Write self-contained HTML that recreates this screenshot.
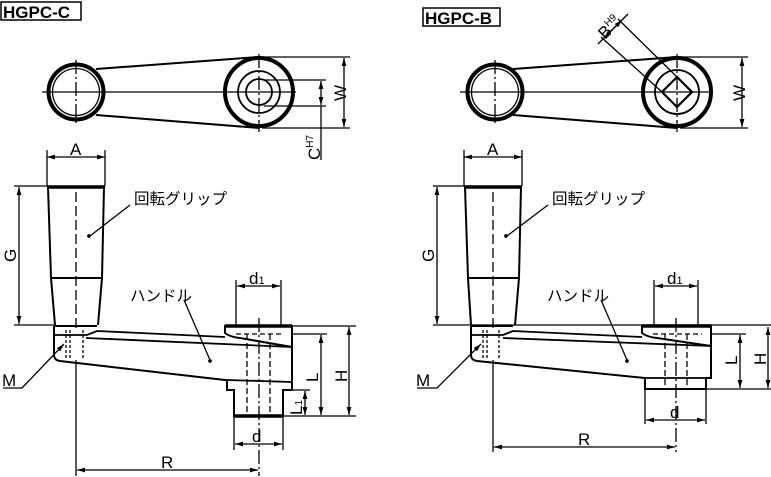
<!DOCTYPE html>
<html><head><meta charset="utf-8"><style>
html,body{margin:0;padding:0;background:#fff}
svg{display:block}
text{font-family:"Liberation Sans","Noto Sans CJK JP",sans-serif;fill:#000}
</style></head><body>
<svg width="771" height="477" viewBox="0 0 771 477" xmlns="http://www.w3.org/2000/svg">
<defs>
<marker id="a" viewBox="0 0 10 6" refX="10" refY="3" markerWidth="8" markerHeight="5" orient="auto-start-reverse" markerUnits="userSpaceOnUse"><path d="M0,0 L10,3 L0,6z" fill="#000"/></marker>
</defs>
<g stroke="#000" fill="none" stroke-width="1.3">
<!-- ===== LEFT TOP VIEW ===== -->
<rect x="1" y="2" width="80" height="18" stroke-width="1.5"/>
<line x1="96" y1="69" x2="259" y2="57" stroke-width="2"/>
<line x1="96" y1="115" x2="259" y2="128" stroke-width="2"/>
<circle cx="76" cy="92" r="27.5" stroke-width="4"/>
<circle cx="76" cy="92" r="23.5"/>
<circle cx="259" cy="92" r="34" stroke-width="4"/>
<circle cx="259" cy="92" r="21" stroke-width="1.8"/>
<circle cx="259" cy="92" r="13" stroke-width="1.8"/>
<line x1="42" y1="92" x2="296" y2="92"/>
<line x1="76" y1="60" x2="76" y2="124" stroke-dasharray="14,3,2,3"/>
<line x1="259" y1="54" x2="259" y2="132" stroke-dasharray="14,3,2,3"/>
<line x1="262" y1="57" x2="350" y2="57"/><line x1="262" y1="128" x2="350" y2="128"/>
<line x1="344" y1="58" x2="344" y2="127" marker-start="url(#a)" marker-end="url(#a)"/>
<line x1="264" y1="80" x2="326" y2="80"/><line x1="264" y1="106" x2="326" y2="106"/>
<line x1="321" y1="81" x2="321" y2="105" marker-start="url(#a)" marker-end="url(#a)"/>
<line x1="321" y1="106" x2="321" y2="160"/>

<!-- ===== LEFT SIDE VIEW ===== -->
<line x1="47" y1="157" x2="105" y2="157" marker-start="url(#a)" marker-end="url(#a)"/>
<line x1="47" y1="150" x2="47" y2="186"/><line x1="105" y1="150" x2="105" y2="186"/>
<line x1="14" y1="186" x2="47" y2="186"/><line x1="14" y1="325" x2="55" y2="325"/>
<line x1="19" y1="187" x2="19" y2="324" marker-start="url(#a)" marker-end="url(#a)"/>
<line x1="47" y1="187" x2="105" y2="187" stroke-width="3.5"/>
<path d="M48,187 L51,278 L55,325 M104,187 L102,278 L98,325 M51,278 L102,278" stroke-width="2"/>
<line x1="76" y1="192" x2="76" y2="330" stroke-dasharray="10,4"/>
<path d="M54,326 L97,326 M54,326 L54,355 Q54,360 60,361 L225,380 L227,380 L227,390 L234,390 L234,416 L283,416 L283,390 L292,390 L292,326 L225,326 L225,333 Q230,337 240,338 L292,347" stroke-width="2"/>
<path d="M54,335 L87,335 L97,331 L225,337 M86,338 L292,347 M227,380 L292,382" stroke-width="1.8"/>
<line x1="234" y1="416" x2="283" y2="416" stroke-width="3.5"/>
<line x1="225" y1="326" x2="292" y2="326" stroke-width="3.5"/>
<line x1="66" y1="330" x2="66" y2="360" stroke-dasharray="3,2"/>
<line x1="70" y1="330" x2="70" y2="360" stroke-dasharray="3,2"/>
<line x1="83" y1="330" x2="83" y2="360" stroke-dasharray="3,2"/>
<line x1="236" y1="334" x2="283" y2="334" stroke-dasharray="5,3"/>
<line x1="247" y1="334" x2="247" y2="414" stroke-dasharray="6,3"/>
<line x1="270" y1="334" x2="270" y2="414" stroke-dasharray="6,3"/>
<line x1="259" y1="318" x2="259" y2="476" stroke-dasharray="14,3,2,3"/>
<line x1="76" y1="360" x2="76" y2="476"/>
<line x1="236" y1="280" x2="236" y2="326"/><line x1="281" y1="280" x2="281" y2="326"/>
<line x1="237" y1="286" x2="280" y2="286" marker-start="url(#a)" marker-end="url(#a)"/>
<line x1="293" y1="326" x2="356" y2="326"/><line x1="293" y1="334" x2="327" y2="334"/>
<line x1="283" y1="416" x2="356" y2="416"/><line x1="292" y1="390" x2="310" y2="390"/>
<line x1="321" y1="335" x2="321" y2="415" marker-start="url(#a)" marker-end="url(#a)"/>
<line x1="349" y1="327" x2="349" y2="415" marker-start="url(#a)" marker-end="url(#a)"/>
<line x1="305" y1="391" x2="305" y2="415" marker-start="url(#a)" marker-end="url(#a)"/>
<line x1="234" y1="416" x2="234" y2="450"/><line x1="283" y1="416" x2="283" y2="450"/>
<line x1="235" y1="444" x2="282" y2="444" marker-start="url(#a)" marker-end="url(#a)"/>
<line x1="77" y1="470" x2="258" y2="470" marker-start="url(#a)" marker-end="url(#a)"/>
<path d="M3,388 L22,388 L64,344" marker-end="url(#a)"/>
<path d="M130,205 L90,236"/><circle cx="89" cy="236" r="1.2" fill="#000"/>
<path d="M184,300 L210,360"/><circle cx="210" cy="361" r="1.2" fill="#000"/>

<!-- ===== RIGHT TOP VIEW ===== -->
<rect x="423" y="8" width="77" height="18" stroke-width="1.5"/>
<line x1="513" y1="69" x2="677" y2="57" stroke-width="2"/>
<line x1="513" y1="115" x2="677" y2="128" stroke-width="2"/>
<circle cx="495" cy="92" r="27.5" stroke-width="4"/>
<circle cx="495" cy="92" r="23.5"/>
<circle cx="677" cy="92" r="34" stroke-width="4"/>
<circle cx="677" cy="92" r="22" stroke-width="1.8"/>
<path d="M677,77 L692,92 L677,107 L662,92z" stroke-width="2.2"/>
<line x1="460" y1="92" x2="713" y2="92"/>
<line x1="495" y1="60" x2="495" y2="124" stroke-dasharray="14,3,2,3"/>
<line x1="677" y1="54" x2="677" y2="132" stroke-dasharray="14,3,2,3"/>
<line x1="680" y1="57" x2="748" y2="57"/><line x1="680" y1="128" x2="748" y2="128"/>
<line x1="742" y1="58" x2="742" y2="127" marker-start="url(#a)" marker-end="url(#a)"/>
<line x1="662" y1="92" x2="601" y2="37"/><line x1="677" y1="77" x2="618" y2="19"/>
<line x1="598" y1="44" x2="628" y2="14"/>
<line x1="604" y1="38" x2="622" y2="20" marker-start="url(#a)" marker-end="url(#a)"/>

<!-- ===== RIGHT SIDE VIEW ===== -->
<line x1="464" y1="157" x2="522" y2="157" marker-start="url(#a)" marker-end="url(#a)"/>
<line x1="464" y1="150" x2="464" y2="186"/><line x1="522" y1="150" x2="522" y2="186"/>
<line x1="433" y1="186" x2="464" y2="186"/><line x1="433" y1="325" x2="771" y2="325"/>
<line x1="437" y1="187" x2="437" y2="324" marker-start="url(#a)" marker-end="url(#a)"/>
<line x1="464" y1="187" x2="522" y2="187" stroke-width="3.5"/>
<path d="M465,187 L468,278 L471,325 M521,187 L519,278 L515,325 M468,278 L519,278" stroke-width="2"/>
<line x1="493" y1="192" x2="493" y2="330" stroke-dasharray="10,4"/>
<path d="M471,326 L513,326 M471,326 L471,355 Q471,360 477,361 L645,378 L645,389 L706,389 L706,378 L711,378 L711,326 L642,326 L642,333 Q647,337 657,338 L711,346" stroke-width="2"/>
<path d="M471,335 L503,335 L513,331 L642,337 M503,338 L711,346 M645,378 L711,378" stroke-width="1.8"/>
<line x1="642" y1="326" x2="711" y2="326" stroke-width="3.5"/>
<line x1="483" y1="330" x2="483" y2="360" stroke-dasharray="3,2"/>
<line x1="487" y1="330" x2="487" y2="360" stroke-dasharray="3,2"/>
<line x1="499" y1="330" x2="499" y2="360" stroke-dasharray="3,2"/>
<line x1="653" y1="334" x2="702" y2="334" stroke-dasharray="5,3"/>
<line x1="665" y1="334" x2="665" y2="388" stroke-dasharray="6,3"/>
<line x1="687" y1="334" x2="687" y2="388" stroke-dasharray="6,3"/>
<line x1="676" y1="318" x2="676" y2="452" stroke-dasharray="14,3,2,3"/>
<line x1="493" y1="360" x2="493" y2="452"/>
<line x1="654" y1="280" x2="654" y2="326"/><line x1="698" y1="280" x2="698" y2="326"/>
<line x1="655" y1="286" x2="697" y2="286" marker-start="url(#a)" marker-end="url(#a)"/>
<line x1="711" y1="334" x2="746" y2="334"/><line x1="706" y1="389" x2="771" y2="389"/>
<line x1="740" y1="335" x2="740" y2="388" marker-start="url(#a)" marker-end="url(#a)"/>
<line x1="768" y1="327" x2="768" y2="388" marker-start="url(#a)" marker-end="url(#a)"/>
<line x1="645" y1="389" x2="645" y2="424"/><line x1="706" y1="389" x2="706" y2="424"/>
<line x1="646" y1="420" x2="705" y2="420" marker-start="url(#a)" marker-end="url(#a)"/>
<line x1="494" y1="447" x2="675" y2="447" marker-start="url(#a)" marker-end="url(#a)"/>
<path d="M417,388 L437,388 L481,344" marker-end="url(#a)"/>
<path d="M548,205 L507,236"/><circle cx="506" cy="236" r="1.2" fill="#000"/>
<path d="M601,300 L627,360"/><circle cx="627" cy="361" r="1.2" fill="#000"/>
</g>
<g font-size="17">
<text x="3" y="18" font-size="17" font-weight="bold">HGPC-C</text>
<text x="425" y="24" font-size="17" font-weight="bold">HGPC-B</text>
<text x="70" y="155">A</text><text x="487" y="155">A</text>
<text x="134" y="204" font-size="15.5">回転グリップ</text><text x="552" y="204" font-size="15.5">回転グリップ</text>
<text x="130" y="301" font-size="15.5">ハンドル</text><text x="547" y="301" font-size="15.5">ハンドル</text>
<text x="249" y="284">d<tspan font-size="11">1</tspan></text>
<text x="667" y="284">d<tspan font-size="11">1</tspan></text>
<text x="252" y="442">d</text><text x="670" y="418">d</text>
<text x="161" y="468">R</text><text x="578" y="445">R</text>
<text x="2" y="386">M</text><text x="416" y="386">M</text>
<text transform="translate(16,262) rotate(-90)">G</text>
<text transform="translate(434,262) rotate(-90)">G</text>
<text transform="translate(346,101) rotate(-90)">W</text>
<text transform="translate(745,101) rotate(-90)">W</text>
<text transform="translate(318,382) rotate(-90)">L</text>
<text transform="translate(737,365) rotate(-90)">L</text>
<text transform="translate(347,382) rotate(-90)">H</text>
<text transform="translate(766,365) rotate(-90)">H</text>
<text transform="translate(302,415) rotate(-90)">L<tspan font-size="10">1</tspan></text>
<text transform="translate(320,160) rotate(-90)">C<tspan font-size="10" dy="-7">H7</tspan></text>
<text transform="translate(605,40) rotate(-45)">B<tspan font-size="10" dy="-7">H9</tspan></text>
</g>
</svg>
</body></html>
